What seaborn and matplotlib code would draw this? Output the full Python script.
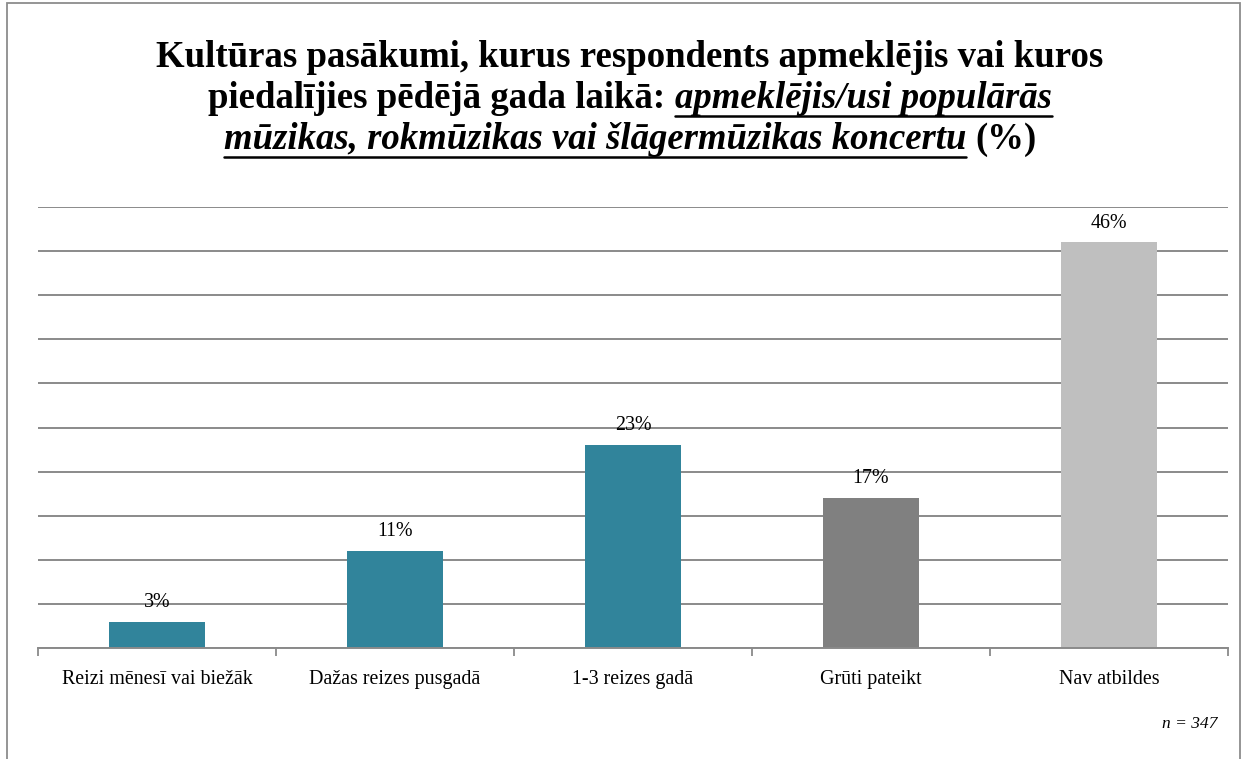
import numpy as np
import pandas as pd
import seaborn as sns
import matplotlib.pyplot as plt
from matplotlib.lines import Line2D
from matplotlib.patches import Rectangle

# data
categories = ["Reizi mēnesī vai biežāk", "Dažas reizes pusgadā", "1-3 reizes gadā",
              "Grūti pateikt", "Nav atbildes"]
values = [3, 11, 23, 17, 46]
bar_colors = ["#31849B", "#31849B", "#31849B", "#808080", "#BFBFBF"]

sns.set_theme(style="white")
plt.rcParams['font.family'] = ['Liberation Serif', 'DejaVu Serif']
plt.rcParams['text.color'] = 'black'

W, H = 1244, 759
fig = plt.figure(figsize=(W / 100, H / 100), dpi=100)

# outer chart frame (open at the bottom, as in the reference)
fig.patches.append(Rectangle((7 / W, -0.05), (1240 - 7) / W, 1.05 - 3 / H,
                             transform=fig.transFigure, fill=False,
                             edgecolor="#8c8c8c", linewidth=1.3))

ax = fig.add_axes([38 / W, 111 / H, (1228 - 38) / W, (648 - 207) / H])
df = pd.DataFrame({"cat": categories, "val": values})
sns.barplot(data=df, x="cat", y="val", hue="cat", palette=bar_colors,
            width=0.4, legend=False, ax=ax, saturation=1, edgecolor="none",
            linewidth=0)

ax.set_ylim(0, 50)
ax.set_yticks(np.arange(0, 51, 5))
ax.yaxis.grid(True, color="#8a8a8a", linewidth=1.4)
ax.set_axisbelow(True)
ax.tick_params(axis="y", left=False, labelleft=False)
for s in ["left", "right", "top"]:
    ax.spines[s].set_visible(False)
ax.spines["bottom"].set_color("#8a8a8a")
ax.spines["bottom"].set_linewidth(1.4)
ax.set_xlim(-0.5, len(categories) - 0.5)
ax.set_xticks(np.arange(len(categories)))
ax.set_xticklabels(categories, fontsize=14.4, color="black")
ax.set_xticks(np.arange(-0.5, len(categories)), minor=True)
ax.tick_params(axis="x", which="major", length=0, pad=16)
ax.tick_params(axis="x", which="minor", length=6, width=1.3, color="#8a8a8a",
               bottom=True, direction="out")
ax.set_xlabel("")
ax.set_ylabel("")

for c in ax.containers:
    ax.bar_label(c, labels=[f"{int(round(v))}%" for v in c.datavalues],
                 fontsize=14.4, padding=7, color="black")

fig.text(1217 / W, 1 - 728 / H, "n = 347", fontsize=12.5, fontstyle="italic",
         ha="right", va="baseline", color="black")

# title with italic underlined part, assembled piece by piece
r = fig.canvas.get_renderer()
tsize = 26.5
title_lines = [
    [("Kultūras pasākumi, kurus respondents apmeklējis vai kuros", False)],
    [("piedalījies pēdējā gada laikā:", False), ("apmeklējis/usi populārās", True)],
    [("mūzikas, rokmūzikas vai šlāgermūzikas koncertu", True), ("(%)", False)],
]
baselines = [67, 108, 149]
cx = 630


def width_of(s, it):
    t = fig.text(0, 0, s, fontsize=tsize, fontweight="bold",
                 fontstyle="italic" if it else "normal")
    w = t.get_window_extent(r).width
    t.remove()
    return w


space = width_of("a a", False) - width_of("aa", False)
for parts, yb in zip(title_lines, baselines):
    widths = [width_of(s, it) for s, it in parts]
    total = sum(widths) + space * (len(parts) - 1)
    x = cx - total / 2
    for (s, it), w in zip(parts, widths):
        fig.text(x / W, 1 - yb / H, s, fontsize=tsize, fontweight="bold",
                 fontstyle="italic" if it else "normal", ha="left", va="baseline",
                 color="black")
        if it:
            fig.lines.append(Line2D([x / W, (x + w) / W], [1 - (yb + 8) / H] * 2,
                                    transform=fig.transFigure, color="black",
                                    linewidth=1.8))
        x += w + space

fig.savefig("out.png", dpi=100)
